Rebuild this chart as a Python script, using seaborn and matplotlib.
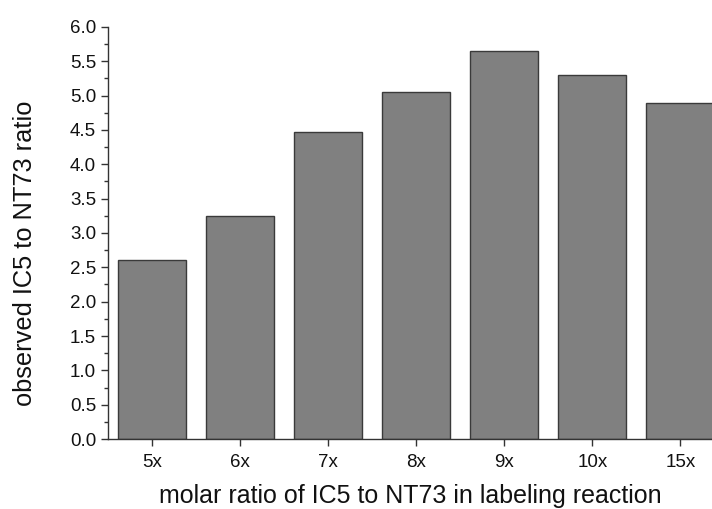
import matplotlib
matplotlib.use("Agg")
import matplotlib.pyplot as plt
import seaborn as sns
import pandas as pd
from matplotlib.ticker import MultipleLocator

categories = ["5x", "6x", "7x", "8x", "9x", "10x", "15x"]
values = [2.60, 3.25, 4.47, 5.05, 5.65, 5.30, 4.89]

sns.set_theme(style="ticks")
plt.rcParams['font.family'] = ['Liberation Sans', 'DejaVu Sans']

df = pd.DataFrame({"ratio": categories, "value": values})

fig = plt.figure(figsize=(7.12, 5.09), dpi=100)
ax = fig.add_axes([0.1517, 0.1375, 1.0 - 0.1517, 0.947 - 0.1375])

sns.barplot(data=df, x="ratio", y="value", color="#808080", saturation=1,
            edgecolor="#3a3a3a", linewidth=1.0, width=0.77, ax=ax)

ax.set_xlim(-0.5, 6.36)
ax.set_ylim(0, 6.0)
ax.yaxis.set_major_locator(MultipleLocator(0.5))
ax.yaxis.set_minor_locator(MultipleLocator(0.25))
ax.set_yticklabels([f"{v:.1f}" for v in ax.get_yticks()])

for s in ["top", "right"]:
    ax.spines[s].set_visible(False)
for s in ["left", "bottom"]:
    ax.spines[s].set_color("#333333")
    ax.spines[s].set_linewidth(1.0)

ax.tick_params(axis="both", which="major", direction="out", length=5, width=1,
               color="#333333", labelsize=13.5, labelcolor="#111111")
ax.tick_params(axis="y", which="minor", direction="out", length=3, width=1, color="#333333")
ax.tick_params(axis="x", pad=6)

ax.set_xlabel("molar ratio of IC5 to NT73 in labeling reaction", fontsize=18,
              color="#111111", labelpad=9)
ax.set_ylabel("observed IC5 to NT73 ratio", fontsize=18.3, color="#111111")
ax.yaxis.set_label_coords(-0.118, 0.451)

fig.savefig("out.png", dpi=100)
